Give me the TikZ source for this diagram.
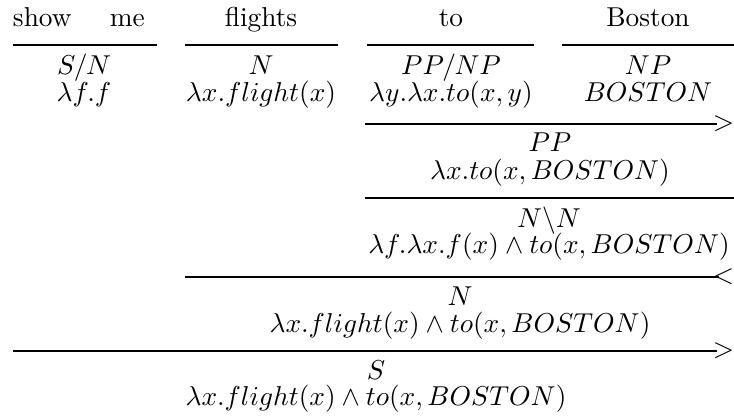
\documentclass[tikz,border=0pt]{standalone}
\begin{document}
\begin{tikzpicture}[x=0.366pt,y=-0.366pt,
  txt/.style={anchor=base,inner sep=0pt,outer sep=0pt},
  rulel/.style={line width=0.55pt},
  tip/.style={anchor=east,inner sep=0pt,outer sep=0pt}]
\useasboundingbox (0,0) rectangle (734,419);
% words
\node[txt,anchor=base west] (w1) at (13,27) {show\hspace{14pt}me};
\node[txt] (w2) at (261,27) {flights};
\node[txt] (w3) at (451,27) {to};
\node[txt] (w4) at (648,27) {Boston};
% lexical rules
\coordinate (r1a) at (13,45);  \coordinate (r1b) at (157,45);
\coordinate (r2a) at (185,45); \coordinate (r2b) at (338,45);
\coordinate (r3a) at (367,45); \coordinate (r3b) at (534,45);
\coordinate (r4a) at (562,45); \coordinate (r4b) at (734,45);
\draw[rulel] (r1a) -- (r1b);
\draw[rulel] (r2a) -- (r2b);
\draw[rulel] (r3a) -- (r3b);
\draw[rulel] (r4a) -- (r4b);
% lexical entries
\node[txt] (c1) at (84,74) {$S/N$};
\node[txt] (s1) at (84,101) {$\lambda f.f$};
\node[txt] (c2) at (261,74) {$N$};
\node[txt] (s2) at (261,101) {$\lambda x.flight(x)$};
\node[txt] (c3) at (451,74) {$PP/NP$};
\node[txt] (s3) at (451,101) {$\lambda y.\lambda x.to(x,y)$};
\node[txt] (c4) at (648,74) {$NP$};
\node[txt] (s4) at (648,101) {$BOSTON$};
% step 1: PP
\coordinate (p1a) at (365,124); \coordinate (p1b) at (717,124);
\draw[rulel] (p1a) -- (p1b);
\coordinate (e1) at (734,124);
\node[tip] (t1) at (e1) {$>$};
\node[txt] (c5) at (550,152) {$PP$};
\node[txt] (s5) at (550,179) {$\lambda x.to(x,BOSTON)$};
% step 2: N\N
\coordinate (p2a) at (365,198); \coordinate (p2b) at (734,198);
\draw[rulel] (p2a) -- (p2b);
\node[txt] (c6) at (549,227) {$N\backslash N$};
\node[txt] (s6) at (549,253) {$\lambda f.\lambda x.f(x)\wedge to(x,BOSTON)$};
% step 3: N
\coordinate (p3a) at (185,277); \coordinate (p3b) at (719,277);
\draw[rulel] (p3a) -- (p3b);
\coordinate (e3) at (734,277);
\node[tip] (t3) at (e3) {$<$};
\node[txt] (c7) at (460,305) {$N$};
\node[txt] (s7) at (460,332) {$\lambda x.flight(x)\wedge to(x,BOSTON)$};
% step 4: S
\coordinate (p4a) at (13,351); \coordinate (p4b) at (717,351);
\draw[rulel] (p4a) -- (p4b);
\coordinate (e4) at (734,351);
\node[tip] (t4) at (e4) {$>$};
\node[txt] (c8) at (376,379) {$S$};
\node[txt] (s8) at (376,405) {$\lambda x.flight(x)\wedge to(x,BOSTON)$};
\end{tikzpicture}
\end{document}
